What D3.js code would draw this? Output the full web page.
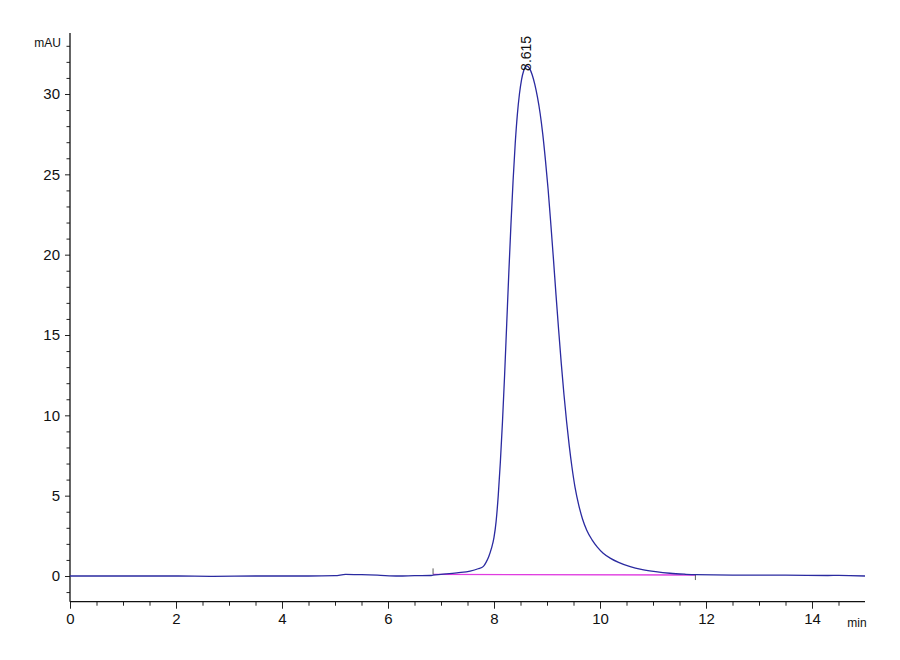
<!DOCTYPE html>
<html>
<head>
<meta charset="utf-8">
<script src="https://cdn.jsdelivr.net/npm/d3@7"></script>
<style>
  body { margin: 0; background: #fff; }
  text { font-family: "Liberation Sans Narrow", "Arial Narrow", "Liberation Sans", sans-serif; }
</style>
</head>
<body>
<div id="vis"></div>
<script>
// retention time (min) and absorbance (mAU)
let time = [0, 1, 2, 2.7, 3.5, 4.5, 5.0, 5.2, 5.5, 5.8, 6.2, 6.5, 6.8, 6.85, 7.0, 7.3, 7.55, 7.7,
  7.8, 7.85, 7.9, 7.95, 8.0, 8.04, 8.08, 8.12, 8.16, 8.2, 8.24, 8.28, 8.32, 8.36, 8.4, 8.44, 8.48,
  8.52, 8.56, 8.615, 8.67, 8.72, 8.77, 8.82, 8.87, 8.92, 8.97, 9.02, 9.07, 9.12, 9.17, 9.22, 9.27,
  9.32, 9.37, 9.42, 9.47, 9.53, 9.6, 9.67, 9.75, 9.85, 9.95, 10.06, 10.2, 10.35, 10.57, 10.8, 11.05,
  11.32, 11.6, 11.8, 12.5, 13.5, 14.3, 14.5, 15];
let mAU = [0, 0, 0, -0.02, 0, 0, 0.02, 0.1, 0.08, 0.05, 0, 0.02, 0.03, 0.05, 0.1, 0.2, 0.3, 0.45,
  0.6, 0.85, 1.2, 1.7, 2.4, 3.4, 5.0, 7.1, 9.6, 12.5, 15.7, 18.9, 21.9, 24.6, 26.9, 28.7, 30.0,
  30.9, 31.45, 31.75, 31.6, 31.2, 30.6, 29.8, 28.8, 27.5, 25.9, 24.1, 22.0, 19.8, 17.5, 15.3, 13.2,
  11.3, 9.6, 8.1, 6.8, 5.5, 4.4, 3.55, 2.85, 2.25, 1.8, 1.42, 1.1, 0.85, 0.58, 0.4, 0.27,
  0.17, 0.11, 0.08, 0.05, 0.05, 0.03, 0.04, 0];

// integration baseline under the peak
let baseTime = [6.85, 11.8];
let baseMAU = [0.1, 0.06];

let peakTime = 8.615;
let peakMAU = 31.75;
let peakLabel = "8.615";

let xTicks = [0, 2, 4, 6, 8, 10, 12, 14];
let yTicks = [0, 5, 10, 15, 20, 25, 30];

let w = 900, h = 660;

let svg = d3.select("#vis").append("svg")
    .attr("width", w)
    .attr("height", h);

svg.append("rect")
    .attr("width", w)
    .attr("height", h)
    .attr("fill", "white");

let x = d3.scaleLinear().domain([0, 15]).range([70, 865]);
let y = d3.scaleLinear().domain([0, 30]).range([576, 94]);

let xAxisY = y(-1.6);

// minor ticks on y (every 1 mAU)
let yMinor = d3.range(-1, 34).filter(v => v % 5 != 0);
svg.append("g")
    .attr("transform", "translate(" + x(0) + ",0)")
    .call(d3.axisLeft(y).tickValues(yMinor).tickSize(3.5).tickFormat(""))
    .call(g => g.select(".domain").remove());

svg.append("g")
    .attr("transform", "translate(" + x(0) + ",0)")
    .call(d3.axisLeft(y).tickValues(yTicks).tickSize(5).tickPadding(5))
    .call(g => g.select(".domain").remove())
    .selectAll("text")
      .style("font-size", "15px")
      .attr("fill", "#111");

svg.append("line")
    .attr("x1", x(0)).attr("x2", x(0))
    .attr("y1", y(33.8)).attr("y2", xAxisY)
    .attr("stroke", "#111")
    .attr("stroke-width", 1.3);

svg.append("text")
    .attr("x", 61)
    .attr("y", 47)
    .attr("text-anchor", "end")
    .style("font-size", "12px")
    .attr("fill", "#111")
    .text("mAU");

// x axis: half-minute ticks then labelled ones
let xMinor = d3.range(0.5, 15, 0.5).filter(v => v % 2 != 0);
svg.append("g")
    .attr("transform", "translate(0," + xAxisY + ")")
    .call(d3.axisBottom(x).tickValues(xMinor).tickSize(4).tickFormat(""))
    .call(g => g.select(".domain").remove());

svg.append("g")
    .attr("transform", "translate(0," + xAxisY + ")")
    .call(d3.axisBottom(x).tickValues(xTicks).tickSize(7).tickPadding(5))
    .call(g => g.select(".domain").remove())
    .selectAll("text")
      .style("font-size", "15px")
      .attr("fill", "#111");

svg.append("line")
    .attr("x1", x(0)).attr("x2", x(15))
    .attr("y1", xAxisY).attr("y2", xAxisY)
    .attr("stroke", "#111")
    .attr("stroke-width", 1.3);

svg.append("text")
    .attr("x", 857)
    .attr("y", 627)
    .attr("text-anchor", "middle")
    .style("font-size", "12px")
    .attr("fill", "#111")
    .text("min");

svg.selectAll(".tick line").attr("stroke", "#222");

// baseline
let baseData = d3.zip(baseTime, baseMAU);
svg.append("path")
    .datum(baseData)
    .attr("fill", "none")
    .attr("stroke", "#e03ce0")
    .attr("stroke-width", 1.4)
    .attr("d", d3.line().x(d => x(d[0])).y(d => y(d[1])));

// start / end marks of the integration
svg.append("line")
    .attr("x1", x(baseTime[0])).attr("x2", x(baseTime[0]))
    .attr("y1", y(baseMAU[0])).attr("y2", y(baseMAU[0]) - 6)
    .attr("stroke", "#333").attr("stroke-width", 0.8);
svg.append("line")
    .attr("x1", x(baseTime[1])).attr("x2", x(baseTime[1]))
    .attr("y1", y(baseMAU[1])).attr("y2", y(baseMAU[1]) + 5)
    .attr("stroke", "#333").attr("stroke-width", 0.8);

// trace
let data = d3.zip(time, mAU);
svg.append("path")
    .datum(data)
    .attr("fill", "none")
    .attr("stroke", "#2a2aa0")
    .attr("stroke-width", 1.3)
    .attr("d", d3.line().curve(d3.curveMonotoneX).x(d => x(d[0])).y(d => y(d[1])));

// peak label
let px = x(peakTime), py = y(peakMAU) + 5;
svg.append("text")
    .attr("transform", "translate(" + (px + 4.5) + "," + py + ")rotate(-90)")
    .attr("text-anchor", "start")
    .style("font-family", "'Liberation Sans', Arial, sans-serif")
    .style("font-size", "14px")
    .attr("fill", "#111")
    .text(peakLabel);
</script>
</body>
</html>
